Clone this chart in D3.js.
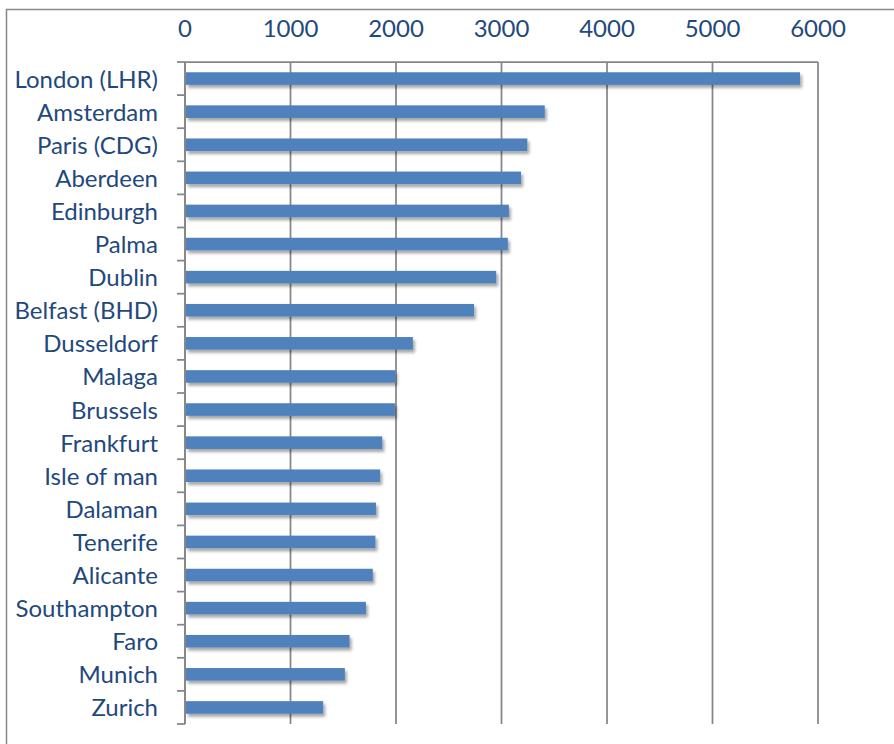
<!DOCTYPE html>
<html>
<head>
<meta charset="utf-8">
<script src="https://cdn.jsdelivr.net/npm/d3@7"></script>
<style>
  body { margin: 0; background: #fff; }
  svg { display: block; }
</style>
</head>
<body>
<script>
// airports, top to bottom
var airports = ["London (LHR)", "Amsterdam", "Paris (CDG)", "Aberdeen", "Edinburgh",
  "Palma", "Dublin", "Belfast (BHD)", "Dusseldorf", "Malaga", "Brussels", "Frankfurt",
  "Isle of man", "Dalaman", "Tenerife", "Alicante", "Southampton", "Faro", "Munich", "Zurich"];

var flights = [5830, 3410, 3245, 3185, 3070, 3060, 2950, 2740, 2160, 1995,
  1990, 1870, 1850, 1810, 1805, 1780, 1715, 1560, 1515, 1310];

var tickValues = [0, 1000, 2000, 3000, 4000, 5000, 6000];

window.onload = drawChart();

function drawChart(){
  var width = 894,
      height = 744;

  var margin = {top: 62, left: 185, right: 76, bottom: 20};
  var font = "Lato, 'Open Sans', sans-serif";

  var svg = d3.select("body")
      .append("svg")
      .attr("width", width)
      .attr("height", height);

  // drop shadow for bars
  var filter = svg.append("defs").append("filter")
      .attr("id", "shadow")
      .attr("x", "-5%").attr("y", "-50%")
      .attr("width", "120%").attr("height", "250%");
  filter.append("feDropShadow")
      .attr("dx", 2).attr("dy", 3)
      .attr("stdDeviation", 1.8)
      .attr("flood-color", "#000")
      .attr("flood-opacity", 0.35);

  // outer border
  svg.append("rect")
      .attr("x", 6.5).attr("y", 9.5)
      .attr("width", 900).attr("height", 760)
      .attr("fill", "none")
      .attr("stroke", "#878787")
      .attr("stroke-width", 1.5);

  var x = d3.scaleLinear()
      .domain([0, 6000])
      .range([margin.left, 818]);

  var band = d3.scaleBand()
      .domain(airports)
      .range([margin.top, 724]);

  // vertical gridlines
  svg.selectAll(".grid")
      .data(tickValues)
      .enter()
      .append("line")
      .attr("class", "grid")
      .attr("x1", function(d){ return x(d); })
      .attr("x2", function(d){ return x(d); })
      .attr("y1", margin.top)
      .attr("y2", 724)
      .attr("stroke", "#868686")
      .attr("stroke-width", 1.75);

  // top line
  svg.append("line")
      .attr("x1", x(0)).attr("x2", x(6000))
      .attr("y1", margin.top).attr("y2", margin.top)
      .attr("stroke", "#868686")
      .attr("stroke-width", 1.75);

  // top axis labels
  svg.selectAll(".xlab")
      .data(tickValues)
      .enter()
      .append("text")
      .attr("class", "xlab")
      .attr("x", function(d){ return x(d); })
      .attr("y", 37)
      .attr("text-anchor", "middle")
      .attr("font-family", font)
      .attr("font-size", "24px")
      .attr("fill", "#1F497D")
      .text(function(d){ return d; });

  // category tick marks at band boundaries
  var bounds = airports.map(function(a){ return band(a); }).concat([724]);
  svg.selectAll(".ytick")
      .data(bounds)
      .enter()
      .append("line")
      .attr("class", "ytick")
      .attr("x1", 177).attr("x2", x(0))
      .attr("y1", function(d){ return d; })
      .attr("y2", function(d){ return d; })
      .attr("stroke", "#868686")
      .attr("stroke-width", 1.75);

  // bars
  svg.selectAll(".bar")
      .data(flights)
      .enter()
      .append("rect")
      .attr("class", "bar")
      .attr("x", x(0) + 1)
      .attr("y", function(d, i){ return band(airports[i]) + band.bandwidth() / 2 - 6.3; })
      .attr("width", function(d){ return x(d) - x(0) - 1; })
      .attr("height", 12.6)
      .attr("fill", "#4F81BD")
      .attr("filter", "url(#shadow)");

  // left axis line
  svg.append("line")
      .attr("x1", x(0)).attr("x2", x(0))
      .attr("y1", margin.top).attr("y2", 724)
      .attr("stroke", "#868686")
      .attr("stroke-width", 1.75);

  // category labels
  svg.selectAll(".ylab")
      .data(airports)
      .enter()
      .append("text")
      .attr("class", "ylab")
      .attr("x", 158)
      .attr("y", function(d){ return band(d) + band.bandwidth() / 2 + 9; })
      .attr("text-anchor", "end")
      .attr("font-family", font)
      .attr("font-size", "24px")
      .attr("fill", "#1F497D")
      .text(function(d){ return d; });
}
</script>
</body>
</html>
